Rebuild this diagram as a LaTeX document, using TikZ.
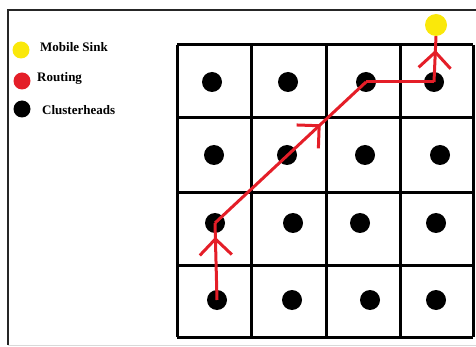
\documentclass[tikz,border=0pt]{standalone}
\usepackage{fontspec}
\setmainfont{Liberation Serif}
\usepackage{tikz}
\usetikzlibrary{arrows.meta,decorations.markings}
\definecolor{sinkyellow}{RGB}{250,232,10}
\definecolor{routered}{RGB}{228,30,40}
\tikzset{
  chdot/.style={circle,fill=black,inner sep=0pt,minimum size=20pt},
  legdot/.style={circle,inner sep=0pt,minimum size=17pt},
  legtext/.style={anchor=west,font=\fontsize{13}{15}\selectfont\bfseries,inner sep=0pt},
  route/.style={routered,line width=3pt,line join=round,
    postaction={decorate},decoration={markings,
      mark=at position #1 with {\arrow[routered,line width=3pt]{Straight Barb[length=16pt,width=32pt]}}}}
}

\begin{document}
\begin{tikzpicture}[x=1pt,y=-1pt]
\useasboundingbox (0,0) rectangle (476,347);
% outer frame
\draw[black!85,line width=2.5pt] (8,345) -- (8,10) -- (476,10);
\draw[black!15,line width=1pt] (8,345) -- (476,345);
% legend
\node[legdot,fill=sinkyellow] (lsink) at (21,50) {};
\node[legtext] at (40,47) {Mobile Sink};
\node[legdot,fill=routered] (lroute) at (22,81) {};
\node[legtext] at (37,78) {Routing};
\node[legdot,fill=black] (lch) at (22,109) {};
\node[legtext] at (42,110) {Clusterheads};
% grid of clusters
\foreach \x in {177,251,326,400,473}
  \draw[line width=3pt] (\x,45) -- (\x,337);
\foreach \y in {45,118,193,265,337}
  \draw[line width=3pt] (177,\y) -- (473,\y);
% cluster heads
\foreach \r/\c/\x/\y in {%
  1/1/212/82, 1/2/288/82, 1/3/366/82, 1/4/434/82,
  2/1/214/155, 2/2/287/155, 2/3/365/155, 2/4/440/155,
  3/1/215/223, 3/2/293/223, 3/3/360/223, 3/4/436/223,
  4/1/217/300, 4/2/292/300, 4/3/370/300, 4/4/436/300}{
  \node[chdot] (c\r\c) at (\x,\y) {};}
% mobile sink
\node[circle,fill=sinkyellow,inner sep=0pt,minimum size=22pt] (sink) at (436,25) {};
% routing path
\draw[route=0.82] (c41.center) -- (c31.center);
\draw[route=0.7] (c31.center) -- (c13.center);
\draw[routered,line width=3pt] (c13.center) -- (c14.center);
\draw[route=0.7] (c14.center) -- (sink.south);
\end{tikzpicture}
\end{document}
